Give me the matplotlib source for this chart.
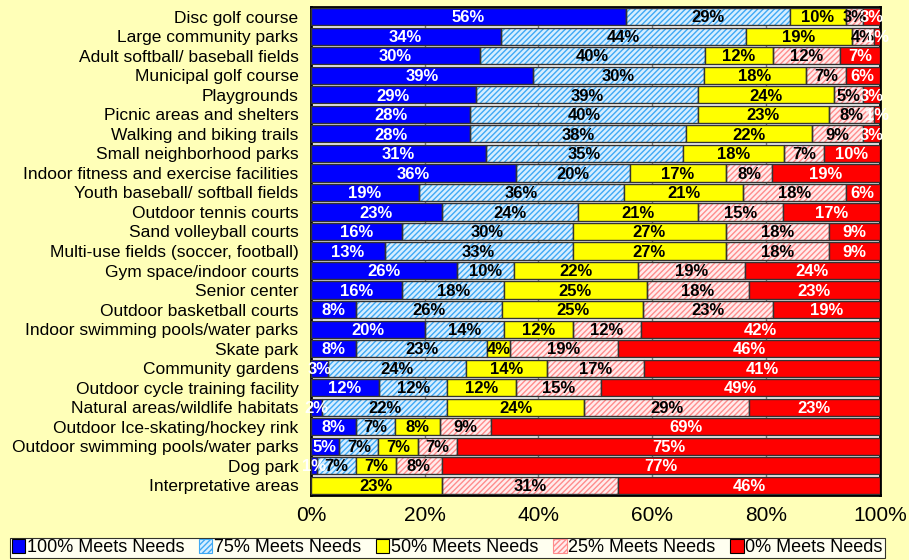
import matplotlib
matplotlib.use("Agg")
import matplotlib.pyplot as plt
from matplotlib.patches import Patch
import numpy as np

plt.rcParams['font.family'] = ['Liberation Sans', 'DejaVu Sans']
plt.rcParams['hatch.linewidth'] = 1.0

categories = [
    "Disc golf course", "Large community parks", "Adult softball/ baseball fields",
    "Municipal golf course", "Playgrounds", "Picnic areas and shelters",
    "Walking and biking trails", "Small neighborhood parks",
    "Indoor fitness and exercise facilities", "Youth baseball/ softball fields",
    "Outdoor tennis courts", "Sand volleyball courts",
    "Multi-use fields (soccer, football)", "Gym space/indoor courts",
    "Senior center", "Outdoor basketball courts",
    "Indoor swimming pools/water parks", "Skate park", "Community gardens",
    "Outdoor cycle training facility", "Natural areas/wildlife habitats",
    "Outdoor Ice-skating/hockey rink", "Outdoor swimming pools/water parks",
    "Dog park", "Interpretative areas",
]
meets_100 = [56, 34, 30, 39, 29, 28, 28, 31, 36, 19, 23, 16, 13, 26, 16, 8, 20, 8, 3, 12, 2, 8, 5, 1, 0]
meets_75 = [29, 44, 40, 30, 39, 40, 38, 35, 20, 36, 24, 30, 33, 10, 18, 26, 14, 23, 24, 12, 22, 7, 7, 7, 0]
meets_50 = [10, 19, 12, 18, 24, 23, 22, 18, 17, 21, 21, 27, 27, 22, 25, 25, 12, 4, 14, 12, 24, 8, 7, 7, 23]
meets_25 = [3, 4, 12, 7, 5, 8, 9, 7, 8, 18, 15, 18, 18, 19, 18, 23, 12, 19, 17, 15, 29, 9, 7, 8, 31]
meets_0 = [3, 1, 7, 6, 3, 1, 3, 10, 19, 6, 17, 9, 9, 24, 23, 19, 42, 46, 41, 49, 23, 69, 75, 77, 46]
series_names = ["100% Meets Needs", "75% Meets Needs", "50% Meets Needs",
                "25% Meets Needs", "0% Meets Needs"]
x_ticks = [0, 20, 40, 60, 80, 100]
x_tick_labels = ["0%", "20%", "40%", "60%", "80%", "100%"]

series = [meets_100, meets_75, meets_50, meets_25, meets_0]
faces = ['#0000FF', '#D6EEFF', '#FFFF00', '#FFECEC', '#FF0000']
hatches = [None, '//////', None, '//////', None]
hatch_cols = [None, '#3FA9F5', None, '#FF8C8C', None]
text_cols = ['white', 'black', 'black', 'black', 'white']
edge = '#333333'
bg = '#FFFFB8'

fig = plt.figure(figsize=(9.09, 5.60), dpi=100, facecolor=bg)
ax = fig.add_axes([0.342, 0.116, 0.626, 0.8715])
ax.set_facecolor('white')

data = np.array(series, dtype=float)
totals = data.sum(axis=0)
norm = data / totals * 100
y = np.arange(len(categories))
left = np.zeros(len(categories))
h = 0.88
for i in range(5):
    vals = norm[i]
    if hatches[i]:
        ax.barh(y, vals, left=left, height=h, color=faces[i], hatch=hatches[i],
                edgecolor=hatch_cols[i], linewidth=0, zorder=2)
        ax.barh(y, vals, left=left, height=h, color='none', edgecolor=edge,
                linewidth=1.0, zorder=3)
    else:
        ax.barh(y, vals, left=left, height=h, color=faces[i], edgecolor=edge,
                linewidth=1.0, zorder=3)
    for j in range(len(categories)):
        if data[i][j] > 0:
            ax.text(left[j] + vals[j] / 2, y[j] + 0.06, f"{int(data[i][j])}%",
                    ha='center', va='center', fontsize=12, fontweight='bold',
                    color=text_cols[i], zorder=5, clip_on=False)
    left += vals

ax.set_xlim(0, 100)
ax.set_ylim(len(categories) - 0.5, -0.5)
ax.set_yticks(y)
ax.set_yticklabels(categories, fontsize=12.5)
ax.set_xticks(x_ticks)
ax.set_xticklabels(x_tick_labels, fontsize=15)
ax.tick_params(axis='y', length=0, pad=9)
ax.tick_params(axis='x', length=0, pad=8)
ax.xaxis.grid(True, color='#808080', linewidth=1.0, zorder=1)
ax.set_axisbelow(True)
for s in ax.spines.values():
    s.set_color('black')
    s.set_linewidth(2)

handles = []
for i in range(5):
    if hatches[i]:
        handles.append(Patch(facecolor=faces[i], hatch='//////', edgecolor=hatch_cols[i],
                             linewidth=0.8, label=series_names[i]))
    else:
        handles.append(Patch(facecolor=faces[i], edgecolor='black', linewidth=0.8,
                             label=series_names[i]))
leg = fig.legend(handles=handles, loc='lower center', bbox_to_anchor=(0.492, 0.0),
                 ncol=5, fontsize=13, frameon=True, fancybox=False,
                 handlelength=0.75, handleheight=0.75, handletextpad=0.1,
                 columnspacing=0.8, borderpad=0.1, borderaxespad=0.1)
leg.get_frame().set_edgecolor('black')
leg.get_frame().set_facecolor('white')
leg.get_frame().set_linewidth(0.8)

fig.savefig('out.png', dpi=100, facecolor=bg)
